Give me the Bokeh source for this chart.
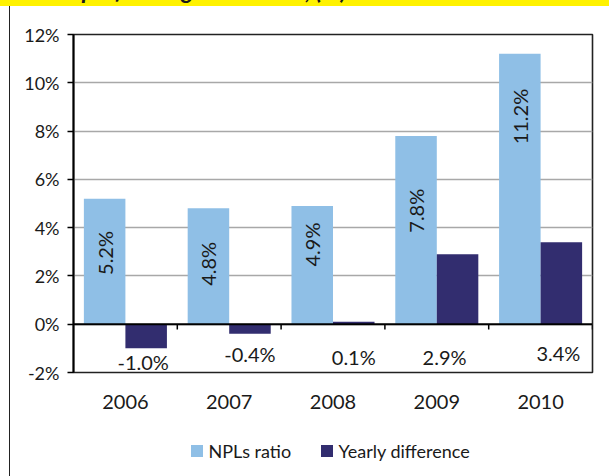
import math

from bokeh.core.properties import value
from bokeh.embed import file_html
from bokeh.models import (ColumnDataSource, FactorRange, FixedTicker, Label,
                          PrintfTickFormatter, Range1d, Span)
from bokeh.plotting import figure
from bokeh.resources import INLINE
from bokeh.transform import dodge

# ---- data -------------------------------------------------------------
years = ["2006", "2007", "2008", "2009", "2010"]
npl_ratio = [5.2, 4.8, 4.9, 7.8, 11.2]          # NPLs ratio, %
yearly_diff = [-1.0, -0.4, 0.1, 2.9, 3.4]       # change on previous year, p.p.
y_ticks = [-2, 0, 2, 4, 6, 8, 10, 12]
series_names = ["NPLs ratio", "Yearly difference"]

# ---- label placement --------------------------------------------------
npl_label_y = [2.95, 2.5, 3.3, 4.7, 8.6]
diff_label_y = [-1.56, -1.25, -1.37, -1.37, -1.2]
diff_label_dx = [-3, 0, 0, -13, -3]

FONT = "Lato"
LIGHT_BLUE = "#8fbfe6"
NAVY = "#322d6f"
YELLOW = "#fff200"
INK = "#1a1a1a"

src = ColumnDataSource(dict(
    year=years,
    npl=npl_ratio,
    diff=yearly_diff,
    npl_txt=[f"{v:.1f}%" for v in npl_ratio],
    diff_txt=[f"{v:.1f}%" for v in yearly_diff],
    npl_ly=npl_label_y,
    diff_ly=diff_label_y,
    diff_dx=diff_label_dx,
))

p = figure(width=609, height=476,
           x_range=FactorRange(factors=years, range_padding=0),
           y_range=Range1d(-2, 12),
           toolbar_location=None, output_backend="svg",
           min_border_left=73, min_border_right=17,
           min_border_top=34, min_border_bottom=104)
p.background_fill_color = "white"
p.border_fill_alpha = 0
p.outline_line_color = "#222222"
p.outline_line_width = 1.6

# page furniture behind the transparent border: yellow band, left rule, legend keys
p.styles = {
    "background": ", ".join([
        f"linear-gradient({YELLOW}, {YELLOW}) 0 0 / 100% 6px no-repeat",
        "linear-gradient(#222222, #222222) 8.7px 6px / 1.3px 100% no-repeat",
        f"linear-gradient({LIGHT_BLUE}, {LIGHT_BLUE}) 191px 445px / 12px 12px no-repeat",
        f"linear-gradient({NAVY}, {NAVY}) 321px 445px / 12px 12px no-repeat",
        "white",
    ]),
}

p.vbar(x=dodge("year", -0.2, range=p.x_range), top="npl", width=0.4,
       source=src, fill_color=LIGHT_BLUE, line_color=None)
p.vbar(x=dodge("year", 0.2, range=p.x_range), top="diff", bottom=0, width=0.4,
       source=src, fill_color=NAVY, line_color=None)

# zero line with category separators hanging below it
p.add_layout(Span(location=0, dimension="width", line_color="black", line_width=2))
p.segment(x0=dodge("year", 0.5, range=p.x_range), y0=0,
          x1=dodge("year", 0.5, range=p.x_range), y1=-0.22,
          source=src, line_color="black", line_width=1.5)

# value labels
p.text(x=dodge("year", -0.2, range=p.x_range), y="npl_ly", text="npl_txt", source=src,
       angle=math.pi / 2, text_align="center", text_baseline="middle",
       text_font=value(FONT), text_font_size="20px", text_color=INK)
p.text(x=dodge("year", 0.2, range=p.x_range), y="diff_ly", text="diff_txt", source=src,
       x_offset="diff_dx", text_align="center", text_baseline="middle",
       text_font=value(FONT), text_font_size="20px", text_color=INK)

# grid and axes
p.xgrid.visible = False
p.ygrid.ticker = FixedTicker(ticks=y_ticks)
p.ygrid.grid_line_color = "#a8a8a8"
p.ygrid.grid_line_width = 1.4

p.yaxis.ticker = FixedTicker(ticks=y_ticks)
p.yaxis.formatter = PrintfTickFormatter(format="%d%%")
p.yaxis.axis_line_color = "black"
p.yaxis.axis_line_width = 2
p.yaxis.major_tick_out = 6
p.yaxis.major_tick_in = 0
p.yaxis.major_tick_line_color = "black"
p.yaxis.major_tick_line_width = 1.5
p.yaxis.minor_tick_line_color = None
p.yaxis.major_label_standoff = 8
p.yaxis.major_label_text_font = FONT
p.yaxis.major_label_text_font_size = "18px"
p.yaxis.major_label_text_color = INK

p.xaxis.axis_line_color = None
p.xaxis.major_tick_line_color = None
p.xaxis.major_tick_out = 0
p.xaxis.major_tick_in = 0
p.xaxis.major_label_standoff = 22
p.xaxis.major_label_text_font = FONT
p.xaxis.major_label_text_font_size = "20px"
p.xaxis.major_label_text_color = INK

# legend texts under the plot (positioned in data units, next to the keys)
for name, lx in zip(series_names, [1.3006, 2.553]):
    p.add_layout(Label(x=lx, y=-5.27, text=name, text_font=FONT, text_font_size="18px",
                       text_color=INK, text_align="left", text_baseline="middle"), "below")

# title line running off the top edge; only its descenders reach the band
p.add_layout(Label(x=-0.41, y=13.86, text="Non-performing loans ratio, (%)",
                   text_font=FONT, text_font_style="bold italic", text_font_size="24px",
                   text_color=INK, text_baseline="alphabetic"), "above")

open("out.html", "w").write(file_html(p, INLINE))
